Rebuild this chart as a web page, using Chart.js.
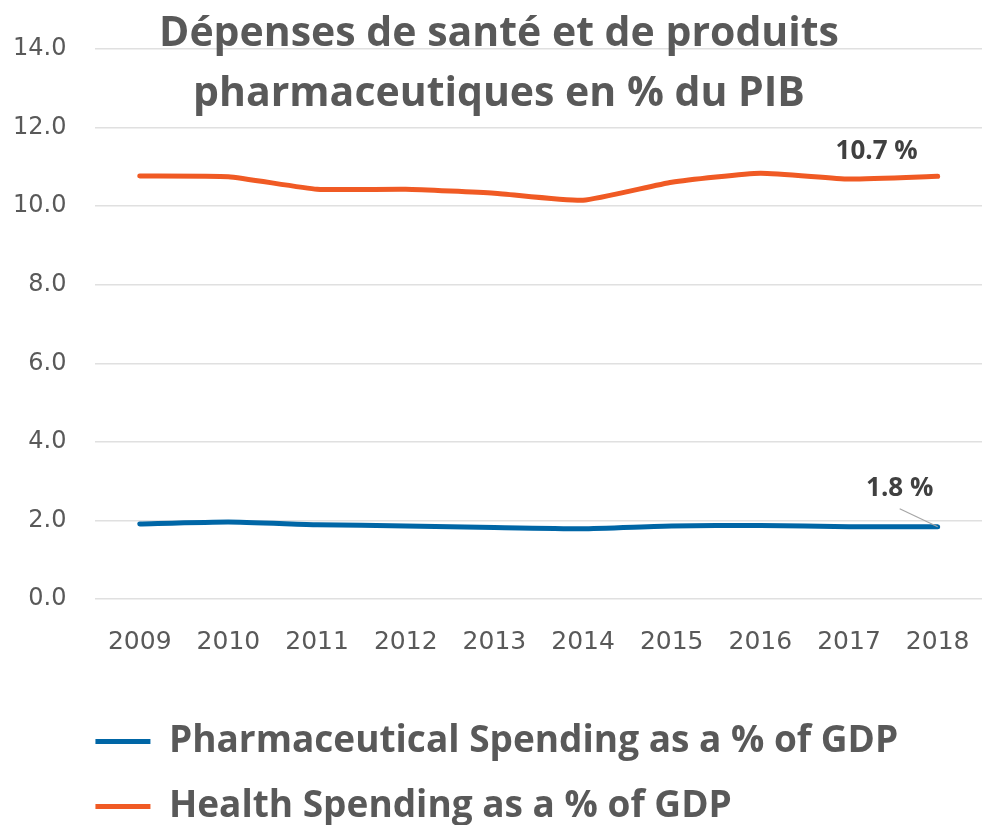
<!DOCTYPE html>
<html>
<head>
<meta charset="utf-8">
<script src="https://cdn.jsdelivr.net/npm/chart.js@4.4.1/dist/chart.umd.min.js"></script>
<style>
  html, body { margin: 0; padding: 0; background: #fff; }
  #wrap { width: 982px; height: 825px; position: relative; }
</style>
</head>
<body>
<div id="wrap"><canvas id="chart"></canvas></div>
<script>
// ── data ──
const YEARS = ['2009', '2010', '2011', '2012', '2013', '2014', '2015', '2016', '2017', '2018'];
const PHARMA = [1.91, 1.96, 1.89, 1.86, 1.82, 1.79, 1.86, 1.87, 1.84, 1.84];
const HEALTH = [10.77, 10.75, 10.43, 10.43, 10.33, 10.15, 10.61, 10.84, 10.69, 10.76];
const TITLE_LINES = ['Dépenses de santé et de produits', 'pharmaceutiques en % du PIB'];
const END_LABELS = ['1.8 %', '10.7 %'];

const FONT = '"Open Sans", "Noto Sans", sans-serif';
const TICK_FONT = '"DejaVu Sans", sans-serif';
const GREY = '#595959';
const BLUE = '#0066a6';
const ORANGE = '#f05a24';
const LEGEND_PAD = 28;

// title sits over the top of the plot, like the original
const titlePlugin = {
  id: 'overTitle',
  afterDraw(chart) {
    const { ctx } = chart;
    ctx.save();
    ctx.fillStyle = GREY;
    ctx.font = `bold 41px ${FONT}`;
    ctx.textAlign = 'center';
    ctx.textBaseline = 'middle';
    ctx.fillText(TITLE_LINES[0], 499, 34);
    ctx.fillText(TITLE_LINES[1], 499, 94);
    ctx.restore();
  },
};

// end-of-line value labels, placed from the library's last point
const endLabelPlugin = {
  id: 'endLabels',
  afterDatasetsDraw(chart) {
    const { ctx } = chart;
    ctx.save();
    ctx.fillStyle = '#404040';
    ctx.font = `bold 26px ${FONT}`;
    ctx.textAlign = 'center';
    ctx.textBaseline = 'middle';

    const pMeta = chart.getDatasetMeta(0);
    const pLast = pMeta.data[pMeta.data.length - 1];
    ctx.strokeStyle = '#a6a6a6';
    ctx.lineWidth = 1.2;
    ctx.beginPath();
    ctx.moveTo(pLast.x - 38, pLast.y - 18);
    ctx.lineTo(pLast.x, pLast.y);
    ctx.stroke();
    ctx.fillText(END_LABELS[0], pLast.x - 38, pLast.y - 38);

    const hMeta = chart.getDatasetMeta(1);
    const hLast = hMeta.data[hMeta.data.length - 1];
    ctx.fillText(END_LABELS[1], hLast.x - 61, hLast.y - 25);
    ctx.restore();
  },
};

// pull the legend back so its markers line up with the plot's left edge
const legendShift = {
  id: 'legendShift',
  afterLayout(chart) {
    chart.legend.left = chart.chartArea.left - LEGEND_PAD;
  },
};

new Chart(document.getElementById('chart'), {
  type: 'line',
  data: {
    labels: YEARS,
    datasets: [
      {
        label: 'Pharmaceutical Spending as a % of GDP',
        data: PHARMA,
        borderColor: BLUE,
        backgroundColor: BLUE,
        borderWidth: 5,
        borderCapStyle: 'round',
        pointRadius: 0,
        tension: 0.15,
      },
      {
        label: 'Health Spending as a % of GDP',
        data: HEALTH,
        borderColor: ORANGE,
        backgroundColor: ORANGE,
        borderWidth: 5,
        borderCapStyle: 'round',
        pointRadius: 0,
        tension: 0.15,
      },
    ],
  },
  options: {
    responsive: true,
    maintainAspectRatio: false,
    animation: false,
    layout: { padding: { top: 49, right: 0, left: -16, bottom: -10 } },
    scales: {
      x: {
        offset: true,
        grid: { display: false },
        border: { display: false },
        ticks: {
          color: GREY,
          font: { family: TICK_FONT, size: 25 },
          padding: 20,
          maxRotation: 0,
        },
        // fixed band under the plot, no extra side padding for end labels
        afterFit(scale) {
          scale.paddingLeft = 0;
          scale.paddingRight = 0;
          scale.height = 96;
        },
      },
      y: {
        min: 0,
        max: 14,
        ticks: {
          stepSize: 2,
          color: GREY,
          font: { family: TICK_FONT, size: 24 },
          padding: 29,
          callback: v => v.toFixed(1),
        },
        grid: { color: '#e0e0e0', lineWidth: 1.5, drawTicks: false },
        border: { display: false },
      },
    },
    plugins: {
      title: { display: false },
      tooltip: { enabled: false },
      legend: {
        position: 'bottom',
        align: 'start',
        fullSize: false,
        labels: {
          color: GREY,
          font: { family: FONT, size: 37, weight: 'bold' },
          usePointStyle: true,
          pointStyle: 'line',
          pointStyleWidth: 55,
          padding: LEGEND_PAD,
        },
      },
    },
  },
  plugins: [titlePlugin, endLabelPlugin, legendShift],
});
</script>
</body>
</html>
